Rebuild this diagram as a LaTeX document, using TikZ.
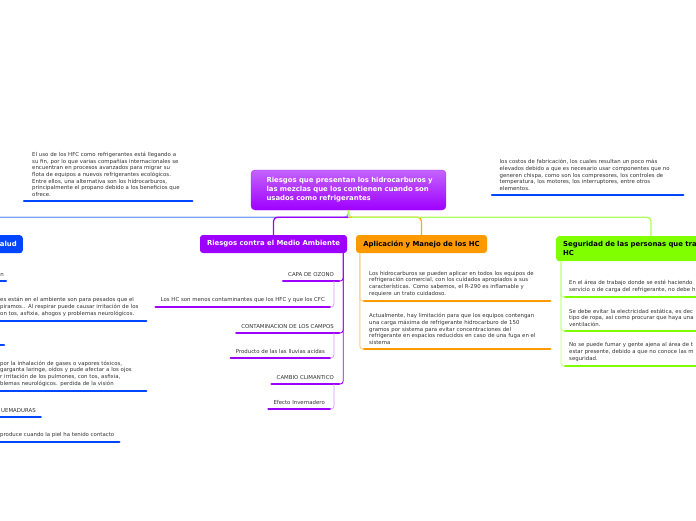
\documentclass[tikz,border=0pt]{standalone}
\usepackage{fontspec}
\setmainfont{DejaVu Sans}
\usetikzlibrary{positioning}

\definecolor{mmblue}{HTML}{0046FF}
\definecolor{mmlblue}{HTML}{7FA3F2}
\definecolor{mmpurple}{HTML}{9E00FF}
\definecolor{mmtop}{HTML}{C463FF}
\definecolor{mmlav}{HTML}{D79BFF}
\definecolor{mmorange}{HTML}{FF9900}
\definecolor{mmlorange}{HTML}{FFCE85}
\definecolor{mmgreen}{HTML}{80FF00}
\definecolor{mmlgreen}{HTML}{C2FF85}
\definecolor{mmtext}{HTML}{333333}

\newcommand{\smalltxt}{\fontsize{5.4}{6.6}\selectfont}
\newcommand{\headtxt}{\bfseries\fontsize{6.9}{9}\selectfont}

\begin{document}
\begin{tikzpicture}[
  x=1pt, y=-1pt,
  root/.style={rectangle, rounded corners=4pt, top color=mmtop, bottom color=mmpurple,
               draw=mmpurple!85, text=white, font=\headtxt, align=left,
               text width=172pt, inner xsep=11.5pt, minimum height=40pt},
  topic/.style={rectangle, rounded corners=3pt, font=\headtxt, inner xsep=6pt,
                minimum height=18pt},
  sub/.style={font=\smalltxt, text=mmtext, inner xsep=5pt, inner ysep=4.5pt,
              append after command={(\tikzlastnode.south west)
                edge[draw=#1, line width=2.2pt, line cap=round] (\tikzlastnode.south east)}},
  conn/.style={line width=1.3pt, rounded corners=4pt},
  trunk/.style={line width=0.9pt, rounded corners=3pt},
  sublink/.style={line width=0.7pt, rounded corners=3pt, draw=mmlav}
]
\useasboundingbox (0,0) rectangle (696,520);
\fill[white] (0,0) rectangle (696,520);
\clip (0,0) rectangle (696,520);

% ---------------- central topic ----------------
\node[root] (root) at (348.5,190)
  {\hspace*{4pt}Riesgos que presentan los hidrocarburos y\\
   \hspace*{4pt}las mezclas que los contienen cuando son\\
   \hspace*{4pt}usados como refrigerantes};
\coordinate (hub) at ([yshift=-7pt]root.south);

% ---------------- floating topics ----------------
\node[sub=mmblue, anchor=south west, align=left, text width=152pt, inner xsep=8pt] (ftl) at (24,201)
  {El uso de los HFC como refrigerantes está llegando a\\
   su fin, por lo que varias compañías internacionales se\\
   encuentran en procesos avanzados para migrar su\\
   flota de equipos a nuevos refrigerantes ecológicos.\\
   Entre ellos, una alternativa son los hidrocarburos,\\
   principalmente el propano debido a los beneficios que\\
   ofrece.};
\node[sub=mmblue, anchor=south west, align=left, text width=176pt, inner xsep=7.5pt] (ftr) at (492,195)
  {los costos de fabricación, los cuales resultan un poco más\\
   elevados debido a que es necesario usar componentes que no\\
   generen chispa, como son los compresores, los controles de\\
   temperatura, los motores, los interruptores, entre otros\\
   elementos.};

% ---------------- main topics ----------------
\node[topic, fill=mmblue, text=white, anchor=north east] (salud) at (23,235) {alud};
\coordinate (saludtop) at (-30,235);
\node[topic, fill=mmpurple, text=white, minimum width=147pt] (ma) at (273.5,244)
  {Riesgos contra el Medio Ambiente};
\node[topic, fill=mmorange, text=black, minimum width=131pt] (apl) at (421.5,244)
  {Aplicación y Manejo de los HC};
\node[topic, fill=mmgreen, text=black, anchor=north west, align=left, text width=170pt,
      inner xsep=7pt, minimum height=25pt] (seg) at (556,236)
  {Seguridad de las personas que tra\\HC};

% ---------------- salud ----------------
\node[sub=mmblue, anchor=south east, inner xsep=2pt] (s1) at (6,281) {n};
\node[sub=mmblue, anchor=south west, align=left, text width=141pt] (s2) at (-5,321)
  {es están en el ambiente son para pesados que el\\
   piramos.. Al respirar puede causar irritación de los\\
   on tos, asfixia, ahogos y problemas neurológicos.};
\node[sub=mmblue, anchor=south east, minimum width=20pt] (s3) at (4,345) {};
\node[sub=mmblue, anchor=south west, align=left, text width=141pt] (s4) at (-5,391)
  {por la inhalación de gases o vapores tóxicos,\\
   garganta laringe, oídos y pude afectar a los ojos\\
   r irritación de los pulmones, con tos, asfixia,\\
   blemas neurológicos. perdida de la visión};
\node[sub=mmblue, anchor=south west] (s5) at (-4,417) {UEMADURAS};
\node[sub=mmblue, anchor=south west] (s6) at (-5,442) {produce cuando la piel ha tenido contacto};

% ---------------- medio ambiente ----------------
\node[sub=mmpurple, anchor=south east] (ozono) at (339,281) {CAPA DE OZONO};
\node[sub=mmpurple, anchor=south east] (hcs) at (330,307)
  {Los HC son menos contaminantes que los HFC y que los CFC};
\node[sub=mmpurple, anchor=south east] (campos) at (339,333) {CONTAMINACION DE LOS CAMPOS};
\node[sub=mmpurple, anchor=south east] (lluvia) at (330,358) {Producto de las las lluvias acidas};
\node[sub=mmpurple, anchor=south east] (clima) at (339,384) {CAMBIO CLIMANTICO};
\node[sub=mmpurple, anchor=south east] (efecto) at (330,409) {Efecto Invernadero};

% ---------------- aplicacion ----------------
\node[sub=mmorange, anchor=south west, align=left, text width=176pt] (apl1) at (364,301)
  {Los hidrocarburos se pueden aplicar en todos los equipos de\\
   refrigeración comercial, con los cuidados apropiados a sus\\
   características. Como sabemos, el R-290 es inflamable y\\
   requiere un trato cuidadoso.};
\node[sub=mmorange, anchor=south west, align=left, text width=176pt] (apl2) at (364,349)
  {Actualmente, hay limitación para que los equipos contengan\\
   una carga máxima de refrigerante hidrocarburo de 150\\
   gramos por sistema para evitar concentraciones del\\
   refrigerante en espacios reducidos en caso de una fuga en el\\
   sistema};

% ---------------- seguridad ----------------
\node[sub=mmgreen, anchor=south west, align=left, text width=160pt, inner xsep=4pt] (seg1) at (565,297)
  {En el área de trabajo donde se esté haciendo\\
   servicio o de carga del refrigerante, no debe h};
\node[sub=mmgreen, anchor=south west, align=left, text width=160pt, inner xsep=4pt] (seg2) at (565,331)
  {Se debe evitar la electricidad estática, es dec\\
   tipo de ropa, así como procurar que haya una\\
   ventilación.};
\node[sub=mmgreen, anchor=south west, align=left, text width=160pt, inner xsep=4pt] (seg3) at (565,366)
  {No se puede fumar y gente ajena al área de t\\
   estar presente, debido a que no conoce las m\\
   seguridad.};

% ---------------- connectors ----------------
\draw[conn, mmlblue] (root.south) -- (hub) -| (saludtop);
\draw[conn, mmpurple] (hub) -| (ma.north);
\draw[conn, mmorange!80!yellow] (hub) -| (apl.north);
\draw[conn, mmlgreen!70!mmgreen] (root.south) -- (hub) -| ([xshift=95pt]seg.north west);

\draw[trunk, mmpurple] ([xshift=-4pt]ma.south east) |- (ozono.south east);
\draw[trunk, mmpurple] ([xshift=-4pt]ma.south east) |- (campos.south east);
\draw[trunk, mmpurple] ([xshift=-4pt]ma.south east) |- (clima.south east);
\draw[sublink] ([xshift=-5pt]ozono.south east) |- (hcs.south east);
\draw[sublink] ([xshift=-5pt]campos.south east) |- (lluvia.south east);
\draw[sublink] ([xshift=-5pt]clima.south east) |- (efecto.south east);

\draw[trunk, mmlorange] ([xshift=4pt]apl.south west) |- (apl1.south west);
\draw[trunk, mmlorange] ([xshift=4pt]apl.south west) |- (apl2.south west);

\draw[trunk, mmlgreen] ([xshift=5pt]seg.south west) |- (seg1.south west);
\draw[trunk, mmlgreen] ([xshift=5pt]seg.south west) |- (seg2.south west);
\draw[trunk, mmlgreen] ([xshift=5pt]seg.south west) |- (seg3.south west);
\end{tikzpicture}
\end{document}
